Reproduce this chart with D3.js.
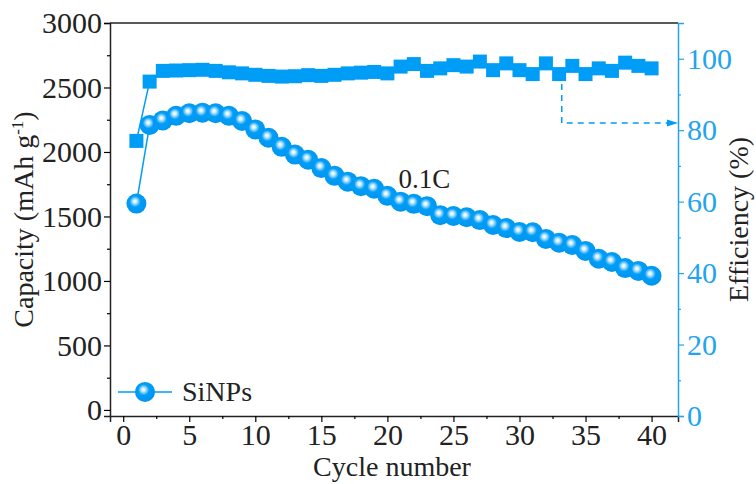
<!DOCTYPE html>
<html>
<head>
<meta charset="utf-8">
<script src="https://cdn.jsdelivr.net/npm/d3@7"></script>
<style>
  body { margin: 0; background: #fff; }
  text { font-family: "Liberation Serif", "Times New Roman", serif; }
</style>
</head>
<body>
<div id="chart"></div>
<script>
// cycle numbers
var cycles = d3.range(1, 41);

// discharge capacity (mAh g-1)
var capacity = [1600, 2210, 2245, 2280, 2300, 2305, 2300, 2280, 2240, 2175,
                2110, 2040, 1980, 1940, 1875, 1815, 1770, 1735, 1715, 1660,
                1615, 1598, 1580, 1510, 1504, 1494, 1472, 1434, 1410, 1380,
                1378, 1326, 1296, 1278, 1233, 1172, 1147, 1100, 1078, 1040];

// coulombic efficiency (%)
var efficiency = [77.0, 93.6, 96.6, 96.7, 96.8, 96.9, 96.6, 96.2, 95.9, 95.5,
                  95.2, 95.0, 95.1, 95.4, 95.2, 95.5, 95.9, 96.1, 96.3, 95.9,
                  97.8, 98.5, 96.6, 97.3, 98.2, 97.8, 99.2, 96.8, 98.7, 96.8,
                  95.7, 98.7, 95.7, 98.0, 95.7, 97.3, 96.6, 98.9, 98.0, 97.3];

var xTicks = [0, 5, 10, 15, 20, 25, 30, 35, 40];
var capTicks = [0, 500, 1000, 1500, 2000, 2500, 3000];
var effTicks = [0, 20, 40, 60, 80, 100];

var blue = "#009df7";
var axisBlue = "#22a4ee";
var fs = "28px";
var tickFs = "30px";

var width = 756, height = 484;
var mLeft = 110, mRight = 678, mTop = 23, mBottom = 416;

var svg = d3.select("#chart").append("svg")
  .attr("width", width)
  .attr("height", height);

var x = d3.scaleLinear().domain([-1, 42]).range([mLeft, mRight]);
var yCap = d3.scaleLinear().domain([-47, 3000]).range([mBottom, mTop]);
var yEff = d3.scaleLinear().domain([0, 110]).range([mBottom, mTop]);

// gradient for the shiny circle markers
var grad = svg.append("defs").append("radialGradient")
  .attr("id", "ball")
  .attr("cx", "45%").attr("cy", "42%").attr("r", "55%")
  .attr("fx", "42%").attr("fy", "38%");
grad.append("stop").attr("offset", "0%").attr("stop-color", "#ffffff");
grad.append("stop").attr("offset", "15%").attr("stop-color", "#d8f0ff");
grad.append("stop").attr("offset", "50%").attr("stop-color", blue);
grad.append("stop").attr("offset", "100%").attr("stop-color", "#0096f0");

// left axis
var leftAxis = svg.append("g")
  .attr("transform", "translate(" + mLeft + ",0)")
  .call(d3.axisLeft(yCap).tickValues(capTicks).tickFormat(d3.format("d")).tickSize(6).tickPadding(2));
svg.append("g")
  .attr("transform", "translate(" + mLeft + ",0)")
  .call(d3.axisLeft(yCap).tickValues(d3.range(250, 3000, 500)).tickSize(3).tickFormat(""))
  .select(".domain").remove();

// bottom axis
var bottomAxis = svg.append("g")
  .attr("transform", "translate(0," + mBottom + ")")
  .call(d3.axisBottom(x).tickValues(xTicks).tickSize(6).tickPadding(2));
svg.append("g")
  .attr("transform", "translate(0," + mBottom + ")")
  .call(d3.axisBottom(x).tickValues(d3.range(2.5, 40, 5)).tickSize(3).tickFormat(""))
  .select(".domain").remove();

// top frame line
svg.append("line")
  .attr("x1", mLeft).attr("x2", mRight)
  .attr("y1", mTop).attr("y2", mTop)
  .attr("stroke", "#222").attr("stroke-width", 1.5);

// right axis (blue)
var rightAxis = svg.append("g")
  .attr("transform", "translate(" + mRight + ",0)")
  .call(d3.axisRight(yEff).tickValues(effTicks).tickSize(6).tickPadding(3));
svg.append("g")
  .attr("transform", "translate(" + mRight + ",0)")
  .call(d3.axisRight(yEff).tickValues(d3.range(10, 110, 20)).tickSize(3).tickFormat(""))
  .attr("class", "minorRight")
  .select(".domain").remove();

svg.selectAll(".domain").attr("stroke-width", 1.5);
leftAxis.selectAll(".domain").attr("stroke", "#222");
bottomAxis.selectAll(".domain").attr("stroke", "#222");
svg.selectAll(".tick line").attr("stroke-width", 1.2);
rightAxis.selectAll("path, line").attr("stroke", axisBlue);
svg.selectAll(".minorRight line").attr("stroke", axisBlue);

leftAxis.selectAll("text").style("font-size", tickFs).attr("fill", "#222");
bottomAxis.selectAll("text").style("font-size", tickFs).attr("fill", "#222");
rightAxis.selectAll("text").style("font-size", tickFs).attr("fill", axisBlue);

// axis titles
svg.append("text")
  .attr("transform", "translate(33," + ((mTop + mBottom) / 2) + ") rotate(-90)")
  .attr("text-anchor", "middle")
  .style("font-size", fs)
  .attr("fill", "#222")
  .html('Capacity (mAh g<tspan dy="-10" style="font-size:17px">-1</tspan><tspan dy="10">)</tspan>');

svg.append("text")
  .attr("transform", "translate(748," + ((mTop + mBottom) / 2) + ") rotate(-90)")
  .attr("text-anchor", "middle")
  .style("font-size", fs)
  .attr("fill", "#222")
  .text("Efficiency (%)");

svg.append("text")
  .attr("x", 392)
  .attr("y", 476)
  .attr("text-anchor", "middle")
  .style("font-size", fs)
  .attr("fill", "#222")
  .text("Cycle number");

// efficiency squares
var effData = cycles.map(function(c, i) { return [c, efficiency[i]]; });
svg.append("path")
  .datum(effData)
  .attr("fill", "none")
  .attr("stroke", blue)
  .attr("stroke-width", 1.5)
  .attr("d", d3.line().x(function(d) { return x(d[0]); }).y(function(d) { return yEff(d[1]); }));
svg.selectAll(".sq")
  .data(effData)
  .enter().append("rect")
  .attr("class", "sq")
  .attr("x", function(d) { return x(d[0]) - 7; })
  .attr("y", function(d) { return yEff(d[1]) - 7; })
  .attr("width", 14).attr("height", 14)
  .attr("fill", blue);

// capacity circles
var capData = cycles.map(function(c, i) { return [c, capacity[i]]; });
svg.append("path")
  .datum(capData)
  .attr("fill", "none")
  .attr("stroke", blue)
  .attr("stroke-width", 1.5)
  .attr("d", d3.line().x(function(d) { return x(d[0]); }).y(function(d) { return yCap(d[1]); }));
svg.selectAll(".ball")
  .data(capData)
  .enter().append("circle")
  .attr("class", "ball")
  .attr("cx", function(d) { return x(d[0]); })
  .attr("cy", function(d) { return yCap(d[1]); })
  .attr("r", 10)
  .attr("fill", "url(#ball)");

// dashed arrow pointing to the efficiency axis
var arrowPts = [[33.2, 96], [33.2, 82], [41.8, 82]];
svg.append("path")
  .datum(arrowPts)
  .attr("fill", "none")
  .attr("stroke", blue)
  .attr("stroke-width", 1.5)
  .attr("stroke-dasharray", "6,5")
  .attr("d", d3.line().x(function(d) { return x(d[0]); }).y(function(d) { return yEff(d[1]); }));
var tip = [x(42), yEff(82)];
svg.append("path")
  .attr("d", "M" + tip[0] + "," + tip[1] + "l-11,-3.5l0,7z")
  .attr("fill", blue);

// rate label
svg.append("text")
  .attr("x", x(22.8))
  .attr("y", yCap(1720))
  .attr("text-anchor", "middle")
  .style("font-size", "27px")
  .attr("fill", "#222")
  .text("0.1C");

// legend
var ly = yCap(140);
svg.append("line")
  .attr("x1", 118).attr("x2", 172)
  .attr("y1", ly).attr("y2", ly)
  .attr("stroke", blue).attr("stroke-width", 1.5);
svg.append("circle")
  .attr("cx", 145).attr("cy", ly).attr("r", 10)
  .attr("fill", "url(#ball)");
svg.append("text")
  .attr("x", 182).attr("y", ly + 9)
  .style("font-size", fs)
  .attr("fill", "#222")
  .text("SiNPs");
</script>
</body>
</html>
